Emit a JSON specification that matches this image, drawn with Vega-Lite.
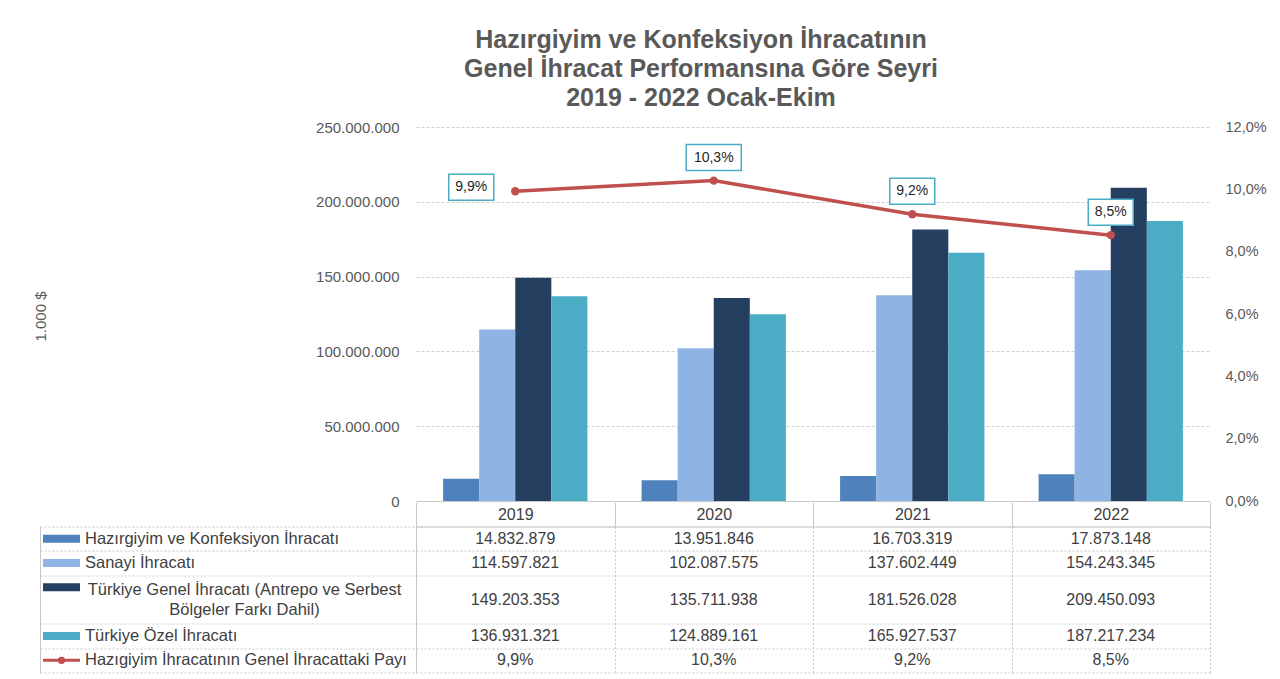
{
  "$schema": "https://vega.github.io/schema/vega-lite/v6.json",
  "padding": {"left": 33, "top": 28, "right": 5, "bottom": 5},
  "background": "white",
  "config": {
    "locale": {"number": {"decimal": ",", "thousands": ".", "grouping": [3], "currency": ["", ""]}},
    "view": {"stroke": null},
    "font": "Liberation Sans"
  },
  "title": {
    "text": ["Hazırgiyim ve Konfeksiyon İhracatının", "Genel İhracat Performansına Göre Seyri", "2019 - 2022 Ocak-Ekim"],
    "anchor": "start",
    "align": "center",
    "frame": "bounds",
    "dx": 668,
    "fontSize": 25,
    "fontWeight": "bold",
    "color": "#595959",
    "lineHeight": 29,
    "offset": 8
  },
  "datasets": {
    "exports": [
      {"year": "2019", "series": "Hazırgiyim ve Konfeksiyon İhracatı", "value": 14832879},
      {"year": "2019", "series": "Sanayi İhracatı", "value": 114597821},
      {"year": "2019", "series": "Türkiye Genel İhracatı (Antrepo ve Serbest Bölgeler Farkı Dahil)", "value": 149203353},
      {"year": "2019", "series": "Türkiye Özel İhracatı", "value": 136931321},
      {"year": "2020", "series": "Hazırgiyim ve Konfeksiyon İhracatı", "value": 13951846},
      {"year": "2020", "series": "Sanayi İhracatı", "value": 102087575},
      {"year": "2020", "series": "Türkiye Genel İhracatı (Antrepo ve Serbest Bölgeler Farkı Dahil)", "value": 135711938},
      {"year": "2020", "series": "Türkiye Özel İhracatı", "value": 124889161},
      {"year": "2021", "series": "Hazırgiyim ve Konfeksiyon İhracatı", "value": 16703319},
      {"year": "2021", "series": "Sanayi İhracatı", "value": 137602449},
      {"year": "2021", "series": "Türkiye Genel İhracatı (Antrepo ve Serbest Bölgeler Farkı Dahil)", "value": 181526028},
      {"year": "2021", "series": "Türkiye Özel İhracatı", "value": 165927537},
      {"year": "2022", "series": "Hazırgiyim ve Konfeksiyon İhracatı", "value": 17873148},
      {"year": "2022", "series": "Sanayi İhracatı", "value": 154243345},
      {"year": "2022", "series": "Türkiye Genel İhracatı (Antrepo ve Serbest Bölgeler Farkı Dahil)", "value": 209450093},
      {"year": "2022", "series": "Türkiye Özel İhracatı", "value": 187217234}
    ],
    "share": [
      {"year": "2019", "series": "Hazıgiyim İhracatının Genel İhracattaki Payı", "share": 0.0994},
      {"year": "2020", "series": "Hazıgiyim İhracatının Genel İhracattaki Payı", "share": 0.1028},
      {"year": "2021", "series": "Hazıgiyim İhracatının Genel İhracattaki Payı", "share": 0.0920},
      {"year": "2022", "series": "Hazıgiyim İhracatının Genel İhracattaki Payı", "share": 0.0853}
    ],
    "rows": [
      {"series": "Hazırgiyim ve Konfeksiyon İhracatı", "label": "Hazırgiyim ve Konfeksiyon İhracatı", "kind": "bar"},
      {"series": "Sanayi İhracatı", "label": "Sanayi İhracatı", "kind": "bar"},
      {"series": "Türkiye Genel İhracatı (Antrepo ve Serbest Bölgeler Farkı Dahil)", "label": "Türkiye Genel İhracatı (Antrepo ve Serbest\nBölgeler Farkı Dahil)", "kind": "bar"},
      {"series": "Türkiye Özel İhracatı", "label": "Türkiye Özel İhracatı", "kind": "bar"},
      {"series": "Hazıgiyim İhracatının Genel İhracattaki Payı", "label": "Hazıgiyim İhracatının Genel İhracattaki Payı", "kind": "line"}
    ]
  },
  "spacing": -7.5,
  "vconcat": [
    {
      "bounds": "flush",
      "spacing": 0,
      "hconcat": [
        {
          "width": 376,
          "height": 374,
          "data": {"values": []},
          "mark": {"type": "point"}
        },
        {
          "width": 794,
          "height": 374,
          "resolve": {"scale": {"y": "independent"}},
          "layer": [
            {
              "data": {"name": "exports"},
              "mark": {"type": "bar"},
              "encoding": {
                "x": {"field": "year", "type": "nominal", "scale": {"type": "band", "paddingInner": 0.273, "paddingOuter": 0.1365},
                      "axis": {"title": null, "labels": false, "ticks": false, "domain": true, "domainColor": "#c8c8c8", "grid": false}},
                "xOffset": {"field": "series", "type": "nominal", "scale": {"domain": ["Hazırgiyim ve Konfeksiyon İhracatı", "Sanayi İhracatı", "Türkiye Genel İhracatı (Antrepo ve Serbest Bölgeler Farkı Dahil)", "Türkiye Özel İhracatı"], "paddingInner": 0, "paddingOuter": 0}},
                "y": {"field": "value", "type": "quantitative", "scale": {"domain": [0, 250000000]},
                      "axis": {"orient": "left", "title": "1.000 $", "format": ",.0f", "values": [0, 50000000, 100000000, 150000000, 200000000, 250000000],
                               "grid": true, "gridColor": "#d0d0d0", "gridDash": [3, 2], "domain": false, "ticks": false,
                               "labelPadding": 17, "labelFontSize": 15, "labelColor": "#595959",
                               "titleX": -383, "titleY": 189, "titleAngle": -90, "titleBaseline": "top", "titleAlign": "center",
                               "titleFontWeight": "normal", "titleFontSize": 15, "titleColor": "#595959"}},
                "color": {"field": "series", "type": "nominal", "legend": null,
                          "scale": {"domain": ["Hazırgiyim ve Konfeksiyon İhracatı", "Sanayi İhracatı", "Türkiye Genel İhracatı (Antrepo ve Serbest Bölgeler Farkı Dahil)", "Türkiye Özel İhracatı"],
                                    "range": ["#4F81BD", "#8EB4E3", "#253F60", "#4BACC6"]}}
              }
            },
            {
              "data": {"name": "share"},
              "layer": [
                {
                  "mark": {"type": "line", "color": "#C0504D", "strokeWidth": 3.5, "point": {"filled": true, "size": 70, "color": "#C0504D"}},
                  "encoding": {
                    "x": {"field": "year", "type": "nominal", "scale": {"type": "band", "paddingInner": 0.273, "paddingOuter": 0.1365},
                          "axis": {"title": null, "labels": false, "ticks": false, "domain": true, "domainColor": "#c8c8c8", "grid": false}},
                    "y": {"field": "share", "type": "quantitative", "scale": {"domain": [0, 0.12]},
                          "axis": {"orient": "right", "title": null, "format": ".1%", "values": [0, 0.02, 0.04, 0.06, 0.08, 0.1, 0.12],
                                   "grid": false, "domain": false, "ticks": false, "labelPadding": 15, "labelFontSize": 14.5, "labelColor": "#595959"}}
                  }
                },
                {
                  "transform": [{"filter": "datum.year == '2019'"}],
                  "mark": {"type": "point", "filled": false, "fill": "white", "fillOpacity": 1, "stroke": "#4BACC6", "strokeWidth": 1.5, "opacity": 1,
                           "shape": "M-1,-0.578H1V0.578H-1Z", "size": 2025, "xOffset": -44, "yOffset": -4},
                  "encoding": {
                    "x": {"field": "year", "type": "nominal", "scale": {"type": "band", "paddingInner": 0.273, "paddingOuter": 0.1365},
                          "axis": {"title": null, "labels": false, "ticks": false, "domain": true, "domainColor": "#c8c8c8", "grid": false}},
                    "y": {"field": "share", "type": "quantitative", "scale": {"domain": [0, 0.12]},
                          "axis": {"orient": "right", "title": null, "format": ".1%", "values": [0, 0.02, 0.04, 0.06, 0.08, 0.1, 0.12],
                                   "grid": false, "domain": false, "ticks": false, "labelPadding": 15, "labelFontSize": 14.5, "labelColor": "#595959"}}
                  }
                },
                {
                  "transform": [{"filter": "datum.year != '2019'"}],
                  "mark": {"type": "point", "filled": false, "fill": "white", "fillOpacity": 1, "stroke": "#4BACC6", "strokeWidth": 1.5, "opacity": 1,
                           "size": 2025, "yOffset": -23},
                  "encoding": {
                    "x": {"field": "year", "type": "nominal", "scale": {"type": "band", "paddingInner": 0.273, "paddingOuter": 0.1365},
                          "axis": {"title": null, "labels": false, "ticks": false, "domain": true, "domainColor": "#c8c8c8", "grid": false}},
                    "y": {"field": "share", "type": "quantitative", "scale": {"domain": [0, 0.12]},
                          "axis": {"orient": "right", "title": null, "format": ".1%", "values": [0, 0.02, 0.04, 0.06, 0.08, 0.1, 0.12],
                                   "grid": false, "domain": false, "ticks": false, "labelPadding": 15, "labelFontSize": 14.5, "labelColor": "#595959"}},
                    "shape": {"condition": {"test": "datum.year == '2020'", "value": "M-1.222,-0.578H1.222V0.578H-1.222Z"}, "value": "M-1,-0.578H1V0.578H-1Z"}
                  }
                },
                {
                  "transform": [{"filter": "datum.year == '2019'"}],
                  "mark": {"type": "text", "fontSize": 14, "color": "#262626", "xOffset": -44, "yOffset": -4, "baseline": "middle"},
                  "encoding": {
                    "x": {"field": "year", "type": "nominal", "scale": {"type": "band", "paddingInner": 0.273, "paddingOuter": 0.1365},
                          "axis": {"title": null, "labels": false, "ticks": false, "domain": true, "domainColor": "#c8c8c8", "grid": false}},
                    "y": {"field": "share", "type": "quantitative", "scale": {"domain": [0, 0.12]},
                          "axis": {"orient": "right", "title": null, "format": ".1%", "values": [0, 0.02, 0.04, 0.06, 0.08, 0.1, 0.12],
                                   "grid": false, "domain": false, "ticks": false, "labelPadding": 15, "labelFontSize": 14.5, "labelColor": "#595959"}},
                    "text": {"field": "share", "type": "quantitative", "format": ".1%"}
                  }
                },
                {
                  "transform": [{"filter": "datum.year != '2019'"}],
                  "mark": {"type": "text", "fontSize": 14, "color": "#262626", "yOffset": -23, "baseline": "middle"},
                  "encoding": {
                    "x": {"field": "year", "type": "nominal", "scale": {"type": "band", "paddingInner": 0.273, "paddingOuter": 0.1365},
                          "axis": {"title": null, "labels": false, "ticks": false, "domain": true, "domainColor": "#c8c8c8", "grid": false}},
                    "y": {"field": "share", "type": "quantitative", "scale": {"domain": [0, 0.12]},
                          "axis": {"orient": "right", "title": null, "format": ".1%", "values": [0, 0.02, 0.04, 0.06, 0.08, 0.1, 0.12],
                                   "grid": false, "domain": false, "ticks": false, "labelPadding": 15, "labelFontSize": 14.5, "labelColor": "#595959"}},
                    "text": {"field": "share", "type": "quantitative", "format": ".1%"}
                  }
                }
              ]
            }
          ]
        }
      ]
    },
    {
      "bounds": "flush",
      "spacing": 0,
      "hconcat": [
        {
          "width": 376,
          "height": 146,
          "data": {"name": "rows"},
          "layer": [
            {
              "transform": [{"filter": "datum.kind == 'bar' && datum.series != 'Türkiye Genel İhracatı (Antrepo ve Serbest Bölgeler Farkı Dahil)'"}],
              "mark": {"type": "text", "align": "left", "baseline": "middle", "dx": -143, "fontSize": 16.5, "color": "#404040"},
              "encoding": {
                "y": {"field": "series", "type": "nominal",
                      "scale": {"type": "band", "paddingInner": 0, "paddingOuter": 0, "domain": ["Hazırgiyim ve Konfeksiyon İhracatı", "Sanayi İhracatı", "Türkiye Genel İhracatı (Antrepo ve Serbest Bölgeler Farkı Dahil)", " ", "Türkiye Özel İhracatı", "Hazıgiyim İhracatının Genel İhracattaki Payı"]},
                      "axis": {"orient": "left", "title": null, "labels": false, "ticks": false, "domain": true, "domainColor": "#c8c8c8",
                               "grid": true, "gridColor": "#c8c8c8", "gridDash": [2, 2], "tickBand": "extent",
                               "gridOpacity": {"condition": {"test": "datum.value === 'Türkiye Genel İhracatı (Antrepo ve Serbest Bölgeler Farkı Dahil)'", "value": 0}, "value": 1}}},
                "text": {"field": "label", "type": "nominal"}
              }
            },
            {
              "transform": [{"filter": "datum.kind == 'line'"}],
              "mark": {"type": "text", "align": "left", "baseline": "middle", "dx": -143, "fontSize": 16.5, "color": "#404040"},
              "encoding": {
                "y": {"field": "series", "type": "nominal",
                      "scale": {"type": "band", "paddingInner": 0, "paddingOuter": 0, "domain": ["Hazırgiyim ve Konfeksiyon İhracatı", "Sanayi İhracatı", "Türkiye Genel İhracatı (Antrepo ve Serbest Bölgeler Farkı Dahil)", " ", "Türkiye Özel İhracatı", "Hazıgiyim İhracatının Genel İhracattaki Payı"]},
                      "axis": {"orient": "left", "title": null, "labels": false, "ticks": false, "domain": true, "domainColor": "#c8c8c8",
                               "grid": true, "gridColor": "#c8c8c8", "gridDash": [2, 2], "tickBand": "extent",
                               "gridOpacity": {"condition": {"test": "datum.value === 'Türkiye Genel İhracatı (Antrepo ve Serbest Bölgeler Farkı Dahil)'", "value": 0}, "value": 1}}},
                "text": {"field": "label", "type": "nominal"}
              }
            },
            {
              "transform": [{"filter": "datum.series == 'Türkiye Genel İhracatı (Antrepo ve Serbest Bölgeler Farkı Dahil)'"}],
              "mark": {"type": "text", "align": "center", "baseline": "middle", "dx": 16.5, "dy": -10, "fontSize": 16.5, "color": "#404040", "lineBreak": "\n", "lineHeight": 20},
              "encoding": {
                "y": {"field": "series", "type": "nominal", "bandPosition": 1,
                      "scale": {"type": "band", "paddingInner": 0, "paddingOuter": 0, "domain": ["Hazırgiyim ve Konfeksiyon İhracatı", "Sanayi İhracatı", "Türkiye Genel İhracatı (Antrepo ve Serbest Bölgeler Farkı Dahil)", " ", "Türkiye Özel İhracatı", "Hazıgiyim İhracatının Genel İhracattaki Payı"]},
                      "axis": {"orient": "left", "title": null, "labels": false, "ticks": false, "domain": true, "domainColor": "#c8c8c8",
                               "grid": true, "gridColor": "#c8c8c8", "gridDash": [2, 2], "tickBand": "extent",
                               "gridOpacity": {"condition": {"test": "datum.value === 'Türkiye Genel İhracatı (Antrepo ve Serbest Bölgeler Farkı Dahil)'", "value": 0}, "value": 1}}},
                "text": {"field": "label", "type": "nominal"}
              }
            },
            {
              "transform": [{"filter": "datum.kind == 'bar'"}],
              "mark": {"type": "point", "filled": true, "opacity": 1, "shape": "M-1,-0.216H1V0.216H-1Z", "size": 1369, "xOffset": -166.5},
              "encoding": {
                "y": {"field": "series", "type": "nominal",
                      "scale": {"type": "band", "paddingInner": 0, "paddingOuter": 0, "domain": ["Hazırgiyim ve Konfeksiyon İhracatı", "Sanayi İhracatı", "Türkiye Genel İhracatı (Antrepo ve Serbest Bölgeler Farkı Dahil)", " ", "Türkiye Özel İhracatı", "Hazıgiyim İhracatının Genel İhracattaki Payı"]},
                      "axis": {"orient": "left", "title": null, "labels": false, "ticks": false, "domain": true, "domainColor": "#c8c8c8",
                               "grid": true, "gridColor": "#c8c8c8", "gridDash": [2, 2], "tickBand": "extent",
                               "gridOpacity": {"condition": {"test": "datum.value === 'Türkiye Genel İhracatı (Antrepo ve Serbest Bölgeler Farkı Dahil)'", "value": 0}, "value": 1}}},
                "color": {"field": "series", "type": "nominal", "legend": null,
                          "scale": {"domain": ["Hazırgiyim ve Konfeksiyon İhracatı", "Sanayi İhracatı", "Türkiye Genel İhracatı (Antrepo ve Serbest Bölgeler Farkı Dahil)", "Türkiye Özel İhracatı"],
                                    "range": ["#4F81BD", "#8EB4E3", "#253F60", "#4BACC6"]}}
              }
            },
            {
              "transform": [{"filter": "datum.kind == 'line'"}],
              "mark": {"type": "point", "filled": true, "opacity": 1, "color": "#C0504D", "shape": "M-1,-0.08H1V0.08H-1Z", "size": 1369, "xOffset": -166.5},
              "encoding": {
                "y": {"field": "series", "type": "nominal",
                      "scale": {"type": "band", "paddingInner": 0, "paddingOuter": 0, "domain": ["Hazırgiyim ve Konfeksiyon İhracatı", "Sanayi İhracatı", "Türkiye Genel İhracatı (Antrepo ve Serbest Bölgeler Farkı Dahil)", " ", "Türkiye Özel İhracatı", "Hazıgiyim İhracatının Genel İhracattaki Payı"]},
                      "axis": {"orient": "left", "title": null, "labels": false, "ticks": false, "domain": true, "domainColor": "#c8c8c8",
                               "grid": true, "gridColor": "#c8c8c8", "gridDash": [2, 2], "tickBand": "extent",
                               "gridOpacity": {"condition": {"test": "datum.value === 'Türkiye Genel İhracatı (Antrepo ve Serbest Bölgeler Farkı Dahil)'", "value": 0}, "value": 1}}}
              }
            },
            {
              "transform": [{"filter": "datum.kind == 'line'"}],
              "mark": {"type": "point", "filled": true, "opacity": 1, "color": "#C0504D", "shape": "circle", "size": 55, "xOffset": -166.5},
              "encoding": {
                "y": {"field": "series", "type": "nominal",
                      "scale": {"type": "band", "paddingInner": 0, "paddingOuter": 0, "domain": ["Hazırgiyim ve Konfeksiyon İhracatı", "Sanayi İhracatı", "Türkiye Genel İhracatı (Antrepo ve Serbest Bölgeler Farkı Dahil)", " ", "Türkiye Özel İhracatı", "Hazıgiyim İhracatının Genel İhracattaki Payı"]},
                      "axis": {"orient": "left", "title": null, "labels": false, "ticks": false, "domain": true, "domainColor": "#c8c8c8",
                               "grid": true, "gridColor": "#c8c8c8", "gridDash": [2, 2], "tickBand": "extent",
                               "gridOpacity": {"condition": {"test": "datum.value === 'Türkiye Genel İhracatı (Antrepo ve Serbest Bölgeler Farkı Dahil)'", "value": 0}, "value": 1}}}
              }
            }
          ]
        },
        {
          "width": 794,
          "height": 146,
          "layer": [
            {
              "data": {"name": "exports"},
              "transform": [{"filter": "datum.series != 'Türkiye Genel İhracatı (Antrepo ve Serbest Bölgeler Farkı Dahil)'"}],
              "mark": {"type": "text", "baseline": "middle", "fontSize": 16, "color": "#404040"},
              "encoding": {
                "x": {"field": "year", "type": "nominal", "scale": {"type": "band", "paddingInner": 0, "paddingOuter": 0},
                      "axis": {"orient": "top", "title": null, "labelAngle": 0, "labelFontSize": 16, "labelColor": "#404040", "labelPadding": -20,
                               "ticks": true, "tickSize": 24, "tickColor": "#c8c8c8", "tickBand": "extent",
                               "domain": true, "domainColor": "#c8c8c8", "grid": true, "gridColor": "#c8c8c8", "gridDash": [2, 2]}},
                "y": {"field": "series", "type": "nominal",
                      "scale": {"type": "band", "paddingInner": 0, "paddingOuter": 0, "domain": ["Hazırgiyim ve Konfeksiyon İhracatı", "Sanayi İhracatı", "Türkiye Genel İhracatı (Antrepo ve Serbest Bölgeler Farkı Dahil)", " ", "Türkiye Özel İhracatı", "Hazıgiyim İhracatının Genel İhracattaki Payı"]},
                      "axis": {"orient": "left", "title": null, "labels": false, "ticks": false, "domain": true, "domainColor": "#c8c8c8",
                               "grid": true, "gridColor": "#c8c8c8", "gridDash": [2, 2], "tickBand": "extent",
                               "gridOpacity": {"condition": {"test": "datum.value === 'Türkiye Genel İhracatı (Antrepo ve Serbest Bölgeler Farkı Dahil)'", "value": 0}, "value": 1}}},
                "text": {"field": "value", "type": "quantitative", "format": ",.0f"}
              }
            },
            {
              "data": {"name": "exports"},
              "transform": [{"filter": "datum.series == 'Türkiye Genel İhracatı (Antrepo ve Serbest Bölgeler Farkı Dahil)'"}],
              "mark": {"type": "text", "baseline": "middle", "fontSize": 16, "color": "#404040"},
              "encoding": {
                "x": {"field": "year", "type": "nominal", "scale": {"type": "band", "paddingInner": 0, "paddingOuter": 0},
                      "axis": {"orient": "top", "title": null, "labelAngle": 0, "labelFontSize": 16, "labelColor": "#404040", "labelPadding": -20,
                               "ticks": true, "tickSize": 24, "tickColor": "#c8c8c8", "tickBand": "extent",
                               "domain": true, "domainColor": "#c8c8c8", "grid": true, "gridColor": "#c8c8c8", "gridDash": [2, 2]}},
                "y": {"field": "series", "type": "nominal", "bandPosition": 1,
                      "scale": {"type": "band", "paddingInner": 0, "paddingOuter": 0, "domain": ["Hazırgiyim ve Konfeksiyon İhracatı", "Sanayi İhracatı", "Türkiye Genel İhracatı (Antrepo ve Serbest Bölgeler Farkı Dahil)", " ", "Türkiye Özel İhracatı", "Hazıgiyim İhracatının Genel İhracattaki Payı"]},
                      "axis": {"orient": "left", "title": null, "labels": false, "ticks": false, "domain": true, "domainColor": "#c8c8c8",
                               "grid": true, "gridColor": "#c8c8c8", "gridDash": [2, 2], "tickBand": "extent",
                               "gridOpacity": {"condition": {"test": "datum.value === 'Türkiye Genel İhracatı (Antrepo ve Serbest Bölgeler Farkı Dahil)'", "value": 0}, "value": 1}}},
                "text": {"field": "value", "type": "quantitative", "format": ",.0f"}
              }
            },
            {
              "data": {"name": "share"},
              "mark": {"type": "text", "baseline": "middle", "fontSize": 16, "color": "#404040"},
              "encoding": {
                "x": {"field": "year", "type": "nominal", "scale": {"type": "band", "paddingInner": 0, "paddingOuter": 0},
                      "axis": {"orient": "top", "title": null, "labelAngle": 0, "labelFontSize": 16, "labelColor": "#404040", "labelPadding": -20,
                               "ticks": true, "tickSize": 24, "tickColor": "#c8c8c8", "tickBand": "extent",
                               "domain": true, "domainColor": "#c8c8c8", "grid": true, "gridColor": "#c8c8c8", "gridDash": [2, 2]}},
                "y": {"field": "series", "type": "nominal",
                      "scale": {"type": "band", "paddingInner": 0, "paddingOuter": 0, "domain": ["Hazırgiyim ve Konfeksiyon İhracatı", "Sanayi İhracatı", "Türkiye Genel İhracatı (Antrepo ve Serbest Bölgeler Farkı Dahil)", " ", "Türkiye Özel İhracatı", "Hazıgiyim İhracatının Genel İhracattaki Payı"]},
                      "axis": {"orient": "left", "title": null, "labels": false, "ticks": false, "domain": true, "domainColor": "#c8c8c8",
                               "grid": true, "gridColor": "#c8c8c8", "gridDash": [2, 2], "tickBand": "extent",
                               "gridOpacity": {"condition": {"test": "datum.value === 'Türkiye Genel İhracatı (Antrepo ve Serbest Bölgeler Farkı Dahil)'", "value": 0}, "value": 1}}},
                "text": {"field": "share", "type": "quantitative", "format": ".1%"}
              }
            }
          ]
        }
      ]
    }
  ]
}
